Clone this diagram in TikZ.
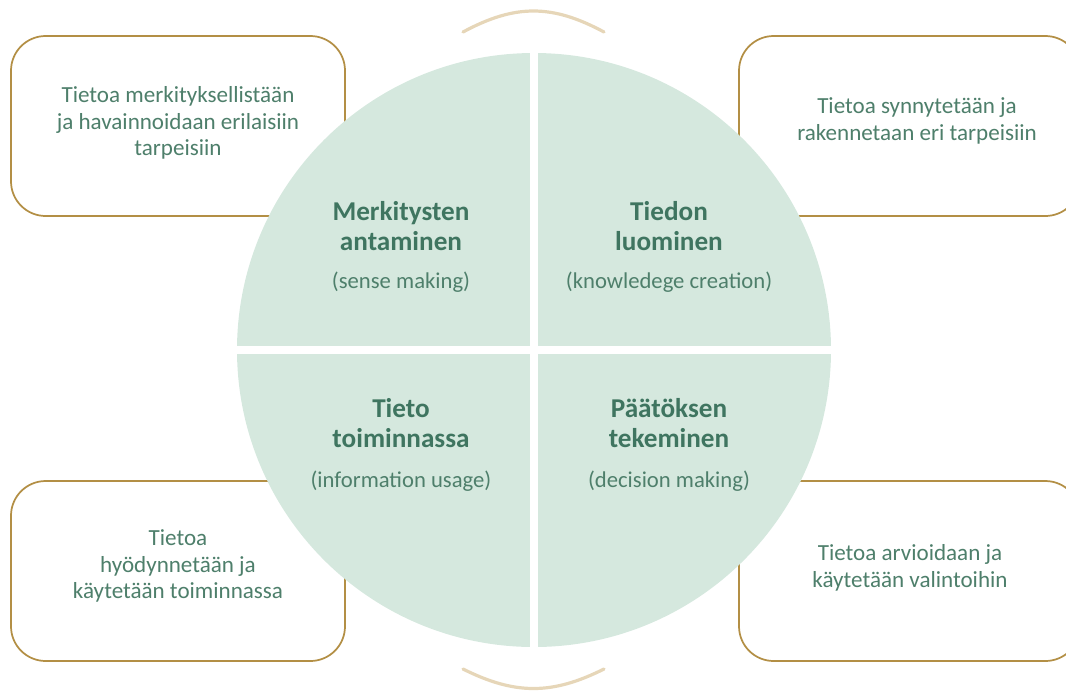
\documentclass[tikz,border=0pt]{standalone}
\usepackage{fontspec}
\setmainfont{Carlito}
\definecolor{txtgreen}{HTML}{4E7F6B}
\definecolor{ttlgreen}{HTML}{3F7560}
\definecolor{discfill}{HTML}{D5E8DE}
\definecolor{boxline}{HTML}{B38F45}
\definecolor{arcline}{HTML}{E6D6B8}
\tikzset{
  infobox/.style={draw=boxline, line width=1.3pt, fill=white, rounded corners=26pt},
  boxtext/.style={font=\fontsize{17.3}{19.8}\selectfont, text=txtgreen, align=center},
  quadtitle/.style={font=\fontsize{20.4}{22}\selectfont\bfseries, text=ttlgreen, align=center},
  quadsub/.style={font=\fontsize{17}{19.5}\selectfont, text=txtgreen, align=center},
  swoop/.style={draw=arcline, line width=2.4pt, line cap=round}
}
\begin{document}
\begin{tikzpicture}[x=0.75pt,y=-0.75pt]
    \clip (0,0) rectangle (1066,690);
    \useasboundingbox (0,0) rectangle (1066,690);

    % corner boxes
    \draw[infobox] (11,36) rectangle (345,216);
    \draw[infobox] (739,36) rectangle (1080,216);
    \draw[infobox] (11,481) rectangle (345,661);
    \draw[infobox] (739,481) rectangle (1080,661);

    % disc with white cross
    \coordinate (c) at (534,350);
    \fill[discfill] (c) circle (297);
    \draw[white, line width=6pt] (534,50) -- (534,650);
    \draw[white, line width=6pt] (234,350) -- (834,350);

    % top and bottom arcs
    \coordinate (t1) at (463,32);
    \coordinate (t2) at (604,32);
    \coordinate (b1) at (463,669);
    \coordinate (b2) at (604,669);
    \draw[swoop] (t1) .. controls (515,4) and (552,4) .. (t2);
    \draw[swoop] (b1) .. controls (515,695) and (552,695) .. (b2);

    % box texts
    \node[boxtext] (tl) at (178,123) {Tietoa merkityksellistään\\ja havainnoidaan erilaisiin\\tarpeisiin};
    \node[boxtext] (tr) at (917,121) {Tietoa synnytetään ja\\rakennetaan eri tarpeisiin};
    \node[boxtext] (bl) at (178,566) {Tietoa\\hyödynnetään ja\\käytetään toiminnassa};
    \node[boxtext] (br) at (910,568) {Tietoa arvioidaan ja\\käytetään valintoihin};

    % quadrant texts
    \node[quadtitle] (q1) at (401,226) {Merkitysten\\antaminen};
    \node[quadsub] (s1) at (401,282) {(sense making)};
    \node[quadtitle] (q2) at (669,226) {Tiedon\\luominen};
    \node[quadsub] (s2) at (669,282) {(knowledege creation)};
    \node[quadtitle] (q3) at (401,423) {Tieto\\toiminnassa};
    \node[quadsub] (s3) at (401,481) {(information usage)};
    \node[quadtitle] (q4) at (669,423) {Päätöksen\\tekeminen};
    \node[quadsub] (s4) at (669,481) {(decision making)};
\end{tikzpicture}
\end{document}
